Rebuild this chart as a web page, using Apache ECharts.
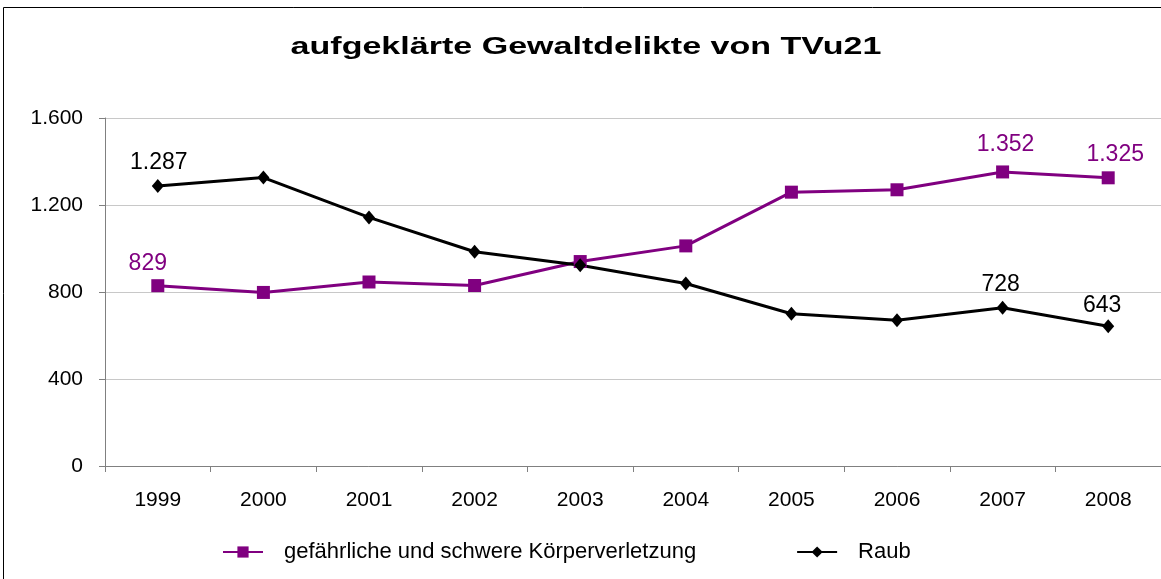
<!DOCTYPE html>
<html>
<head>
<meta charset="utf-8">
<script src="https://cdn.jsdelivr.net/npm/echarts@6/dist/echarts.min.js"></script>
<style>
html,body{margin:0;padding:0;background:#fff;}
#c{width:1161px;height:579px;}
</style>
</head>
<body>
<div id="c"></div>
<script>
const categories = ['1999','2000','2001','2002','2003','2004','2005','2006','2007','2008'];
const koerperverletzung = [829, 798, 846, 830, 940, 1012, 1259, 1270, 1352, 1325];
const raub = [1287, 1326, 1143, 985, 923, 839, 700, 670, 728, 643];
const labeledIdx = [0, 8, 9];
const yTicks = [0, 400, 800, 1200, 1600];

// label placement tweaks (style only)
const purpleOffsets = {0: [-10, 3], 8: [3, -2], 9: [7, 2]};
const blackOffsets = {0: [1, 0], 8: [-2, 0], 9: [-6, 3]};

const fmt = v => v >= 1000 ? Math.floor(v/1000) + '.' + String(v%1000).padStart(3,'0') : String(v);

const chart = echarts.init(document.getElementById('c'));
const font = 'Liberation Sans, Arial, sans-serif';

function mk(values, color, offs) {
  return values.map((v, i) => labeledIdx.includes(i)
    ? {value: v, label: {show: true, color: color, offset: offs[i]}}
    : v);
}

chart.setOption({
  animation: false,
  graphic: [
    {
      type: 'rect', shape: {x: 3.5, y: 7.5, width: 1170, height: 600},
      style: {fill: 'none', stroke: '#000', lineWidth: 1}, silent: true, z: -1
    },
    {
      type: 'text', x: 586, y: 48, scaleX: 1.48,
      style: {
        text: 'aufgeklärte Gewaltdelikte von TVu21',
        font: 'bold 23px Liberation Sans, Arial, sans-serif',
        fill: '#000', textAlign: 'center', textVerticalAlign: 'middle',
        align: 'center', verticalAlign: 'middle'
      }
    }
  ],
  legend: {
    bottom: 11, left: 217, itemGap: 100, itemWidth: 40, itemHeight: 14,
    textStyle: {fontFamily: font, fontSize: 22, color: '#000', padding: [0, 0, 0, 16]},
    data: ['gefährliche und schwere Körperverletzung', 'Raub']
  },
  grid: {left: 105, top: 118, width: 1059, height: 348, containLabel: false},
  xAxis: {
    type: 'category', data: categories, boundaryGap: true,
    axisLine: {lineStyle: {color: '#808080', width: 1}},
    axisTick: {show: true, length: 6, lineStyle: {color: '#808080'}},
    axisLabel: {fontFamily: font, fontSize: 21, color: '#000', margin: 24}
  },
  yAxis: {
    type: 'value', min: 0, max: 1600, interval: 400,
    axisLine: {show: true, lineStyle: {color: '#808080', width: 1}},
    axisTick: {show: true, length: 6, lineStyle: {color: '#808080'}},
    splitLine: {lineStyle: {color: '#c8c8c8', width: 1}},
    axisLabel: {fontFamily: font, fontSize: 21, color: '#000', margin: 22,
      formatter: v => yTicks.includes(v) ? fmt(v) : ''}
  },
  series: [
    {
      name: 'gefährliche und schwere Körperverletzung', type: 'line',
      data: mk(koerperverletzung, '#800080', purpleOffsets),
      color: '#800080',
      lineStyle: {width: 3, color: '#800080'},
      symbol: 'rect', symbolSize: 13, itemStyle: {color: '#800080'},
      label: {show: false, position: 'top', distance: 7,
        fontFamily: font, fontSize: 23, formatter: p => fmt(p.value)}
    },
    {
      name: 'Raub', type: 'line',
      data: mk(raub, '#000', blackOffsets),
      color: '#000',
      lineStyle: {width: 3, color: '#000'},
      symbol: 'diamond', symbolSize: [12, 14], itemStyle: {color: '#000'},
      label: {show: false, position: 'top', distance: 5,
        fontFamily: font, fontSize: 23, formatter: p => fmt(p.value)}
    }
  ]
});
</script>
</body>
</html>
